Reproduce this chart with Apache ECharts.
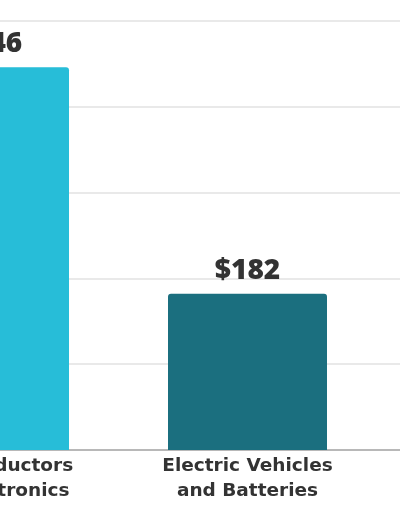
<!DOCTYPE html>
<html><head><meta charset="utf-8">
<script src="https://cdn.jsdelivr.net/npm/echarts@6/dist/echarts.min.js"></script>
<style>html,body{margin:0;padding:0;background:#fff}#c{width:400px;height:516px}</style>
</head><body><div id="c"></div>
<script>
const categories = ['Semiconductors\nand Electronics', 'Electric Vehicles\nand Batteries', ''];
const values = [446, 182, null];
const barColors = ['#27BDD8', '#1B6F7F', '#1B6F7F'];
const yTicks = [0, 100, 200, 300, 400, 500];

const chart = echarts.init(document.getElementById('c'), null, {renderer: 'canvas'});
chart.setOption({
  animation: false,
  grid: {left: -139.5, right: -234.5, top: 21, bottom: 66, containLabel: false, outerBoundsMode: 'none'},
  xAxis: {
    type: 'category', data: categories,
    axisTick: {show: false},
    axisLine: {lineStyle: {color: '#b8b8b8', width: 2}},
    axisLabel: {color: '#333', fontFamily: 'DejaVu Sans', fontWeight: 'bold', fontSize: 18.5, lineHeight: 25, margin: 4, interval: 0, hideOverlap: false}
  },
  yAxis: {
    type: 'value', min: yTicks[0], max: yTicks[yTicks.length - 1], interval: 100,
    axisLabel: {show: false}, axisLine: {show: false}, axisTick: {show: false},
    splitLine: {lineStyle: {color: '#e2e2e2', width: 1.5}}
  },
  series: [{
    type: 'bar', barWidth: 159,
    data: values.map((v, i) => ({value: v, itemStyle: {color: barColors[i], borderRadius: [3, 3, 0, 0]}})),
    label: {show: true, position: 'top', distance: 9, color: '#333', fontFamily: 'Open Sans', fontWeight: 800, fontSize: 28,
      formatter: p => p.value == null ? '' : '$' + p.value}
  }]
});
</script></body></html>
